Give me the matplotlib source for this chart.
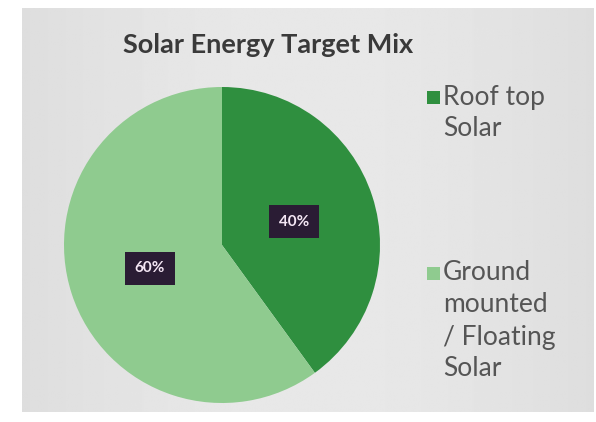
import numpy as np
import matplotlib.pyplot as plt
from matplotlib.patches import Rectangle

# Target mix shares (%)
labels = ['Roof top\nSolar', 'Ground\nmounted\n/ Floating\nSolar']
shares = [40, 60]
colors = ['#2f8f3f', '#8fcb8f']
title = 'Solar Energy Target Mix'

plt.rcParams['font.family'] = ['Lato', 'DejaVu Sans']

fig = plt.figure(figsize=(5.96, 4.22), dpi=100)
fig.patch.set_facecolor('white')

# grey slide panel behind the chart
bg = fig.add_axes([22 / 596, 10 / 422, 572 / 596, 404 / 422])
grad = np.linspace(0, 1, 256)
shade = 0.87 + 0.04 * np.sin(np.pi * grad)
bg.imshow(np.tile(shade, (10, 1)), cmap='gray', vmin=0, vmax=1,
          aspect='auto', extent=[0, 1, 0, 1])
bg.set_axis_off()

# pie
ax = fig.add_axes([64 / 596, 19 / 422, 316 / 596, 316 / 422])
wedges, texts, autotexts = ax.pie(
    shares, colors=colors, startangle=90, counterclock=False,
    autopct='%d%%', pctdistance=0.48,
    wedgeprops=dict(linewidth=0),
    textprops=dict(color='#f4e6f4', fontsize=11, fontweight='bold'))
for t in autotexts:
    t.set_bbox(dict(facecolor='#2a1c34', edgecolor='none', pad=7))
ax.set_xlim(-1, 1)
ax.set_ylim(-1, 1)
ax.set_aspect('equal')

fig.text(268 / 596, 1 - 45 / 422, title, ha='center', va='center',
         fontsize=19.5, fontweight='bold', color='#3a3a3a')

# legend entries on the right, square aligned with first line
line_h = 32 / 422
tops = [1 - 97 / 422, 1 - 273 / 422]
for lab, col, y in zip(labels, colors, tops):
    fig.patches.append(Rectangle((427 / 596, y - 7 / 422), 13 / 596, 13 / 422,
                                 facecolor=col, edgecolor='none',
                                 transform=fig.transFigure, figure=fig))
    for i, part in enumerate(lab.split('\n')):
        fig.text(443 / 596, y - i * line_h, part, ha='left', va='center',
                 fontsize=19, color='#555555')

plt.savefig('out.png', dpi=100)
